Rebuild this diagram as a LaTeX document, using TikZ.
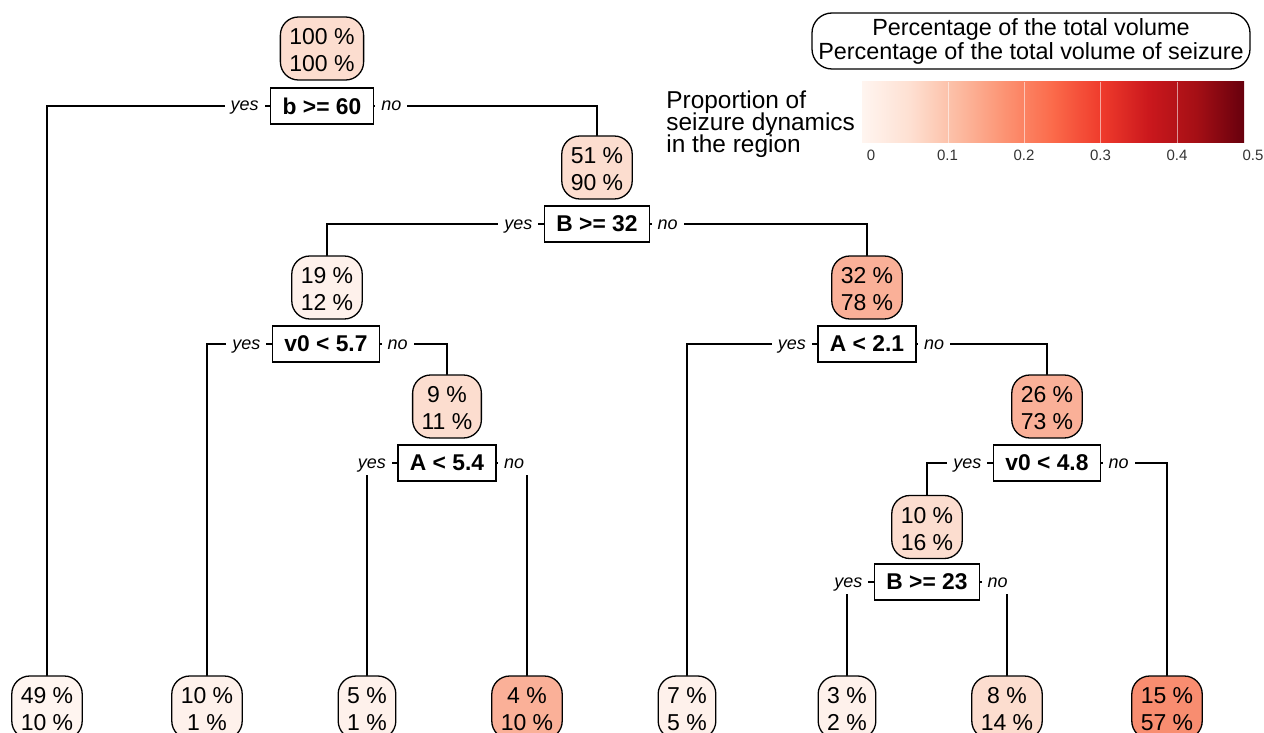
\documentclass[tikz,border=0pt]{standalone}
\usepackage{fontspec}
\setmainfont{Liberation Sans}
\usetikzlibrary{positioning}

\definecolor{rd0}{HTML}{FFF5F0}
\definecolor{rd1}{HTML}{FEE0D2}
\definecolor{rd2}{HTML}{FCBBA1}
\definecolor{rd3}{HTML}{FC9272}
\definecolor{rd4}{HTML}{FB6A4A}
\definecolor{rd5}{HTML}{EF3B2C}
\definecolor{rd6}{HTML}{CB181D}
\definecolor{rd7}{HTML}{A50F15}
\definecolor{rd8}{HTML}{67000D}
\definecolor{fillpale}{HTML}{FFF5F0}
\definecolor{fillfaint}{HTML}{FEF1EB}
\definecolor{filllight}{HTML}{FCDDCF}
\definecolor{fillmid}{HTML}{FAB098}
\definecolor{fillstrong}{HTML}{F88D70}
\pgfdeclarehorizontalshading{redsbar}{100bp}{color(0bp)=(rd0); color(25bp)=(rd0);
  color(31.25bp)=(rd1); color(37.5bp)=(rd2); color(43.75bp)=(rd3); color(50bp)=(rd4);
  color(56.25bp)=(rd5); color(62.5bp)=(rd6); color(68.75bp)=(rd7); color(75bp)=(rd8);
  color(100bp)=(rd8)}

\begin{document}
\begin{tikzpicture}[x=0.5pt,y=-0.5pt]
\tikzset{
  percnode/.style={draw=black,line width=0.65pt,rounded corners=9pt,align=center,inner xsep=4.5pt,inner ysep=2pt,minimum height=31.5pt,text height=23.2pt,font=\fontsize{11.5}{13.5}\selectfont},
  testbox/.style={draw=black,line width=0.65pt,fill=white,inner xsep=6pt,inner ysep=0pt,minimum height=18pt,font=\fontsize{11.4}{12}\selectfont\bfseries},
  sidelabel/.style={fill=white,inner xsep=3pt,inner ysep=0pt,minimum height=12pt,text height=5pt,text depth=0pt,font=\fontsize{9}{10}\selectfont\itshape},
  treeedge/.style={draw=black,line width=0.65pt,line cap=round},
  legendbox/.style={draw=black,line width=0.65pt,rounded corners=10pt,minimum width=219pt,minimum height=28pt,inner sep=0pt,align=center,text height=21.4pt,font=\fontsize{11.7}{12.2}\selectfont},
  ticklabel/.style={inner sep=0pt,text=black!80,font=\fontsize{7.5}{8}\selectfont}
}
\useasboundingbox (0,0) rectangle (1264,733);
\node[percnode,fill=filllight] (n_root) at (322,48.5) {100 \%\\100 \%};
\node[testbox] (s_b60) at (322,106) {b >= 60};
\node[percnode,fill=filllight] (n_51) at (597,167.5) {51 \%\\90 \%};
\node[testbox] (s_B32) at (597,224) {B >= 32};
\node[percnode,fill=fillfaint] (n_19) at (327,287.5) {19 \%\\12 \%};
\node[testbox] (s_v57) at (326,344) {v0 < 5.7};
\node[percnode,fill=filllight] (n_9) at (447,406.5) {9 \%\\11 \%};
\node[testbox] (s_A54) at (447,463) {A < 5.4};
\node[percnode,fill=fillmid] (n_32) at (867,287.5) {32 \%\\78 \%};
\node[testbox] (s_A21) at (867,344) {A < 2.1};
\node[percnode,fill=fillmid] (n_26) at (1047,406.5) {26 \%\\73 \%};
\node[testbox] (s_v48) at (1047,463) {v0 < 4.8};
\node[percnode,fill=filllight] (n_10) at (927,527) {10 \%\\16 \%};
\node[testbox] (s_B23) at (927,582) {B >= 23};
% leaves
\node[percnode,fill=fillpale] (l_49) at (47,707.5) {49 \%\\10 \%};
\node[percnode,fill=fillfaint] (l_10) at (207,707.5) {10 \%\\1 \%};
\node[percnode,fill=fillfaint] (l_5) at (367,707.5) {5 \%\\1 \%};
\node[percnode,fill=fillmid] (l_4) at (527,707.5) {4 \%\\10 \%};
\node[percnode,fill=fillfaint] (l_7) at (687,707.5) {7 \%\\5 \%};
\node[percnode,fill=fillfaint] (l_3) at (847,707.5) {3 \%\\2 \%};
\node[percnode,fill=filllight] (l_8) at (1007,707.5) {8 \%\\14 \%};
\node[percnode,fill=fillstrong] (l_15) at (1167,707.5) {15 \%\\57 \%};
% branches
\draw[treeedge] (s_b60.west) -| (l_49.north);
\draw[treeedge] (s_b60.east) -| (n_51.north);
\draw[treeedge] (s_B32.west) -| (n_19.north);
\draw[treeedge] (s_B32.east) -| (n_32.north);
\draw[treeedge] (s_v57.west) -| (l_10.north);
\draw[treeedge] (s_v57.east) -| (n_9.north);
\draw[treeedge] (s_A54.west) -| (l_5.north);
\draw[treeedge] (s_A54.east) -| (l_4.north);
\draw[treeedge] (s_A21.west) -| (l_7.north);
\draw[treeedge] (s_A21.east) -| (n_26.north);
\draw[treeedge] (s_v48.west) -| (n_10.north);
\draw[treeedge] (s_v48.east) -| (l_15.north);
\draw[treeedge] (s_B23.west) -| (l_3.north);
\draw[treeedge] (s_B23.east) -| (l_8.north);
% yes / no
\node[sidelabel,left=2.5pt of s_b60] (y_b60) {yes};
\node[sidelabel,right=0.5pt of s_b60] (o_b60) {no};
\node[sidelabel,left=2.5pt of s_B32] (y_B32) {yes};
\node[sidelabel,right=0.5pt of s_B32] (o_B32) {no};
\node[sidelabel,left=2.5pt of s_v57] (y_v57) {yes};
\node[sidelabel,right=0.5pt of s_v57] (o_v57) {no};
\node[sidelabel,left=2.5pt of s_A54] (y_A54) {yes};
\node[sidelabel,right=0.5pt of s_A54] (o_A54) {no};
\node[sidelabel,left=2.5pt of s_A21] (y_A21) {yes};
\node[sidelabel,right=0.5pt of s_A21] (o_A21) {no};
\node[sidelabel,left=2.5pt of s_v48] (y_v48) {yes};
\node[sidelabel,right=0.5pt of s_v48] (o_v48) {no};
\node[sidelabel,left=2.5pt of s_B23] (y_B23) {yes};
\node[sidelabel,right=0.5pt of s_B23] (o_B23) {no};
% legend
\node[legendbox] (legend_box) at (1031,41) {Percentage of the total volume\\Percentage of the total volume of seizure};
\node[anchor=west,align=left,inner sep=0pt,font={\fontsize{12.2}{11}\selectfont\lineskiplimit=-4pt\relax}] (bar_title) at (666,124) {Proportion of\\seizure dynamics\\in the region};
\node[shade,shading=redsbar,inner sep=0pt,minimum width=191pt,minimum height=30.5pt] (colour_bar) at (1053,112.5) {};
\foreach \tx in {948,1024,1100,1177}
  \draw[white,opacity=0.55,line width=0.5pt] (\tx,82) -- (\tx,143);
\node[ticklabel] (t_0) at (871,155) {0};
\node[ticklabel] (t_1) at (947.5,155) {0.1};
\node[ticklabel] (t_2) at (1024,155) {0.2};
\node[ticklabel] (t_3) at (1100.5,155) {0.3};
\node[ticklabel] (t_4) at (1177,155) {0.4};
\node[ticklabel] (t_5) at (1253,155) {0.5};
\end{tikzpicture}
\end{document}
